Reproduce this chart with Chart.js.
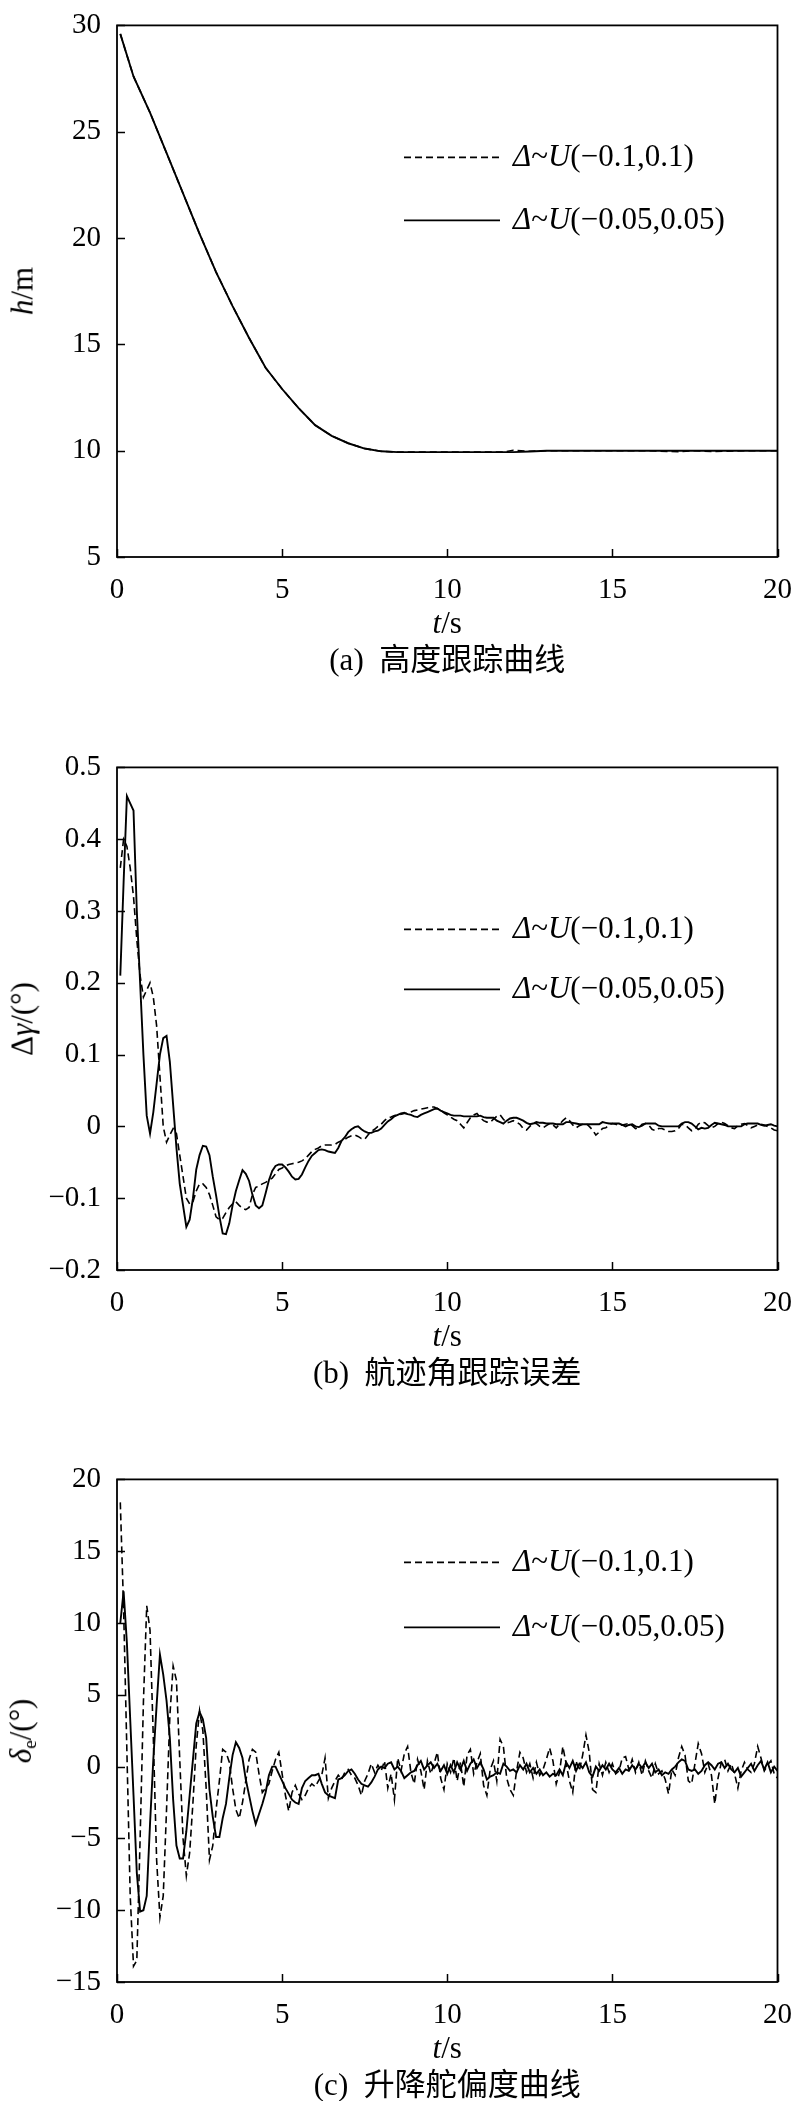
<!DOCTYPE html>
<html>
<head>
<meta charset="utf-8">
<script src="https://cdn.jsdelivr.net/npm/chart.js@4.4.1/dist/chart.umd.min.js"></script>
<style>
  body { margin: 0; background: #fff; width: 800px; height: 2101px; position: relative; overflow: hidden;
         font-family: "Liberation Serif", "Tinos", "Times New Roman", Times, "DejaVu Serif", serif; color: #000; }
  .panel { position: absolute; left: 0; width: 800px; }
  .panel canvas { position: absolute; left: 0; top: 0; }
  .txt { position: absolute; white-space: nowrap; font-size: 31px; line-height: 1; }
  .ytitle { transform: translate(-50%, -50%) rotate(-90deg); }
  .xtitle { transform: translate(-50%, -50%); }
  .caption { transform: translate(-50%, -50%); font-size: 31px;
             font-family: "Liberation Serif", "Tinos", "Times New Roman", "Noto Sans CJK SC", serif; }
  sub { font-size: 0.62em; vertical-align: -0.25em; }
</style>
</head>
<body>
<div class="panel" id="pa" style="top:0px"><canvas width="800" height="607"></canvas></div>
<div class="panel" id="pb" style="top:742px"><canvas width="800" height="578"></canvas></div>
<div class="panel" id="pc" style="top:1454px"><canvas width="800" height="578"></canvas></div>

<script>
// ---- data ----
const labelWide = 'Δ~U(−0.1,0.1)';
const labelNarrow = 'Δ~U(−0.05,0.05)';

// (a) altitude h/m
const aTime = [0.1, 0.5, 1, 1.5, 2, 2.5, 3, 3.5, 4, 4.5, 5, 5.5, 6, 6.5, 7, 7.5, 8, 8.5, 9, 10, 11, 11.7, 12, 12.5, 13, 14, 15, 16, 17, 17.5, 18, 19, 20];
const aNarrow = [29.6, 27.6, 25.9, 24.0, 22.1, 20.2, 18.4, 16.8, 15.3, 13.9, 12.9, 12.0, 11.2, 10.7, 10.35, 10.1, 9.97, 9.93, 9.93, 9.93, 9.93, 9.93, 9.93, 9.96, 10.0, 10.0, 10.0, 10.0, 10.0, 10.0, 10.0, 10.0, 10.0];
const aWide = [29.6, 27.6, 25.9, 24.0, 22.1, 20.2, 18.4, 16.8, 15.3, 13.9, 12.9, 12.0, 11.2, 10.7, 10.35, 10.1, 9.97, 9.93, 9.93, 9.93, 9.93, 9.93, 10.02, 9.97, 10.0, 10.0, 10.0, 10.0, 9.95, 10.0, 9.96, 10.0, 10.0];

// sample times of (b) and (c): 0.1 s .. 20.0 s
const tGrid = [];
for (let i = 1; i <= 200; i++) tGrid.push(i / 10);

// (b) flight path angle error
const bNarrow = [
  0.21, 0.34, 0.46, 0.45, 0.44, 0.30, 0.20, 0.10, 0.015, -0.01,
  0.02, 0.06, 0.10, 0.123, 0.126, 0.09, 0.03, -0.03, -0.08, -0.11,
  -0.14, -0.13, -0.10, -0.06, -0.04, -0.027, -0.028, -0.04, -0.07, -0.096,
  -0.125, -0.149, -0.15, -0.135, -0.11, -0.09, -0.075, -0.061, -0.066, -0.076,
  -0.095, -0.11, -0.114, -0.11, -0.093, -0.075, -0.062, -0.055, -0.053, -0.053,
  -0.057, -0.063, -0.07, -0.074, -0.073, -0.067, -0.057, -0.048, -0.041, -0.037,
  -0.033, -0.032, -0.033, -0.035, -0.036, -0.037, -0.03, -0.02, -0.015, -0.008,
  -0.004, -0.001, 0, -0.004, -0.007, -0.009, -0.009, -0.007, -0.006, -0.003,
  0.002, 0.007, 0.01, 0.014, 0.016, 0.018, 0.019, 0.017, 0.016, 0.014,
  0.013, 0.016, 0.018, 0.02, 0.022, 0.024, 0.025, 0.022, 0.02, 0.018,
  0.016, 0.015, 0.015, 0.015, 0.014, 0.014, 0.014, 0.014, 0.014, 0.015,
  0.013, 0.012, 0.012, 0.012, 0.008, 0.006, 0.004, 0.008, 0.011, 0.012,
  0.012, 0.01, 0.008, 0.005, 0.003, 0.004, 0.006, 0.005, 0.005, 0.004,
  0.004, 0.004, 0.003, 0.003, 0.003, 0.006, 0.006, 0.005, 0.004, 0.003,
  0.003, 0.003, 0.003, 0.003, 0.003, 0.003, 0.006, 0.005, 0.004, 0.004,
  0.004, 0.004, 0.002, 0, 0.002, 0.003, 0, -0.001, 0.001, 0.004,
  0.004, 0.004, 0.004, 0.001, 0, 0, 0, 0, 0, 0,
  0.004, 0.006, 0.006, 0.004, 0, -0.004, -0.002, -0.003, -0.002, 0.002,
  0.005, 0.004, 0.003, 0.002, 0, 0, 0, 0, 0, 0.003,
  0.004, 0.004, 0.004, 0.004, 0.002, 0.001, 0.002, 0.003, 0.001, 0
];
const bWide = [
  0.36, 0.40, 0.39, 0.36, 0.32, 0.26, 0.21, 0.18, 0.19, 0.20,
  0.18, 0.14, 0.07, 0.0, -0.022, -0.012, -0.003, -0.01, -0.04, -0.07,
  -0.10, -0.108, -0.105, -0.09, -0.08, -0.08, -0.085, -0.095, -0.11, -0.126,
  -0.13, -0.128, -0.12, -0.113, -0.108, -0.105, -0.11, -0.114, -0.116, -0.113,
  -0.095, -0.085, -0.083, -0.08, -0.078, -0.075, -0.072, -0.066, -0.06, -0.058,
  -0.055, -0.053, -0.052, -0.051, -0.05, -0.048, -0.045, -0.04, -0.035, -0.032,
  -0.03, -0.027, -0.026, -0.026, -0.026, -0.025, -0.022, -0.02, -0.018, -0.015,
  -0.013, -0.012, -0.014, -0.017, -0.018, -0.012, -0.007, -0.004, 0, 0.003,
  0.008, 0.012, 0.013, 0.015, 0.016, 0.017, 0.018, 0.018, 0.02, 0.022,
  0.023, 0.024, 0.025, 0.026, 0.027, 0.027, 0.025, 0.023, 0.019, 0.016,
  0.013, 0.01, 0.008, 0.003, -0.002, 0.005, 0.012, 0.016, 0.018, 0.012,
  0.008, 0.006, 0.006, 0.01, 0.014, 0.016, 0.01, 0.005, 0.006, 0.008,
  0.006, 0.003, -0.003, -0.005, 0, 0.004, 0.004, 0, -0.002, 0.001,
  0.004, 0.002, -0.002, 0.003, 0.008, 0.012, 0.008, 0.002, -0.002, 0.001,
  0.003, 0.004, 0, -0.005, -0.012, -0.008, -0.003, -0.002, 0.002, 0.004,
  0.003, 0.001, 0.002, 0.003, 0.004, 0.001, -0.003, -0.002, 0.003, 0.004,
  0.002, -0.004, -0.006, -0.003, -0.003, -0.005, -0.007, -0.007, -0.006, -0.003,
  0.003, 0.002, -0.002, -0.006, -0.004, 0.003, 0.006, 0.005, 0.001, -0.002,
  0, 0.004, 0.006, 0.004, 0.001, -0.002, -0.003, 0.001, 0.003, 0.004,
  0.001, -0.002, 0, 0.002, 0.003, 0.002, 0, -0.002, -0.005, -0.006
];

// (c) elevator deflection
const cNarrow = [
  10.0, 12.2, 8.6, 3.3, -2.0, -7.4, -10.1, -10.0, -9.0, -4.0,
  0.5, 4.3, 7.8, 6.4, 4.6, 2.0, -2.3, -5.5, -6.4, -6.4,
  -4.5, -2.0, 0.5, 3.0, 3.8, 3.3, 2.0, -1.6, -3.5, -4.9,
  -4.9, -3.6, -2.6, -0.8, 0.8, 1.7, 1.3, 0.6, -0.9, -2.0,
  -3.1, -4.0, -3.3, -2.6, -1.8, -0.6, 0.0, 0.0, -0.5, -1.0,
  -1.5, -1.9, -2.3, -2.5, -2.6, -1.5, -1.0, -0.8, -0.6, -0.6,
  -0.5, -1.2, -1.8, -2.0, -2.1, -2.2, -0.9, -0.8, -0.6, -0.3,
  -0.2, -0.5, -0.9, -1.2, -1.3, -1.4, -1.1, -0.7, -0.2, 0.0,
  -0.1, 0.2, 0.3, -0.2, 0.0, -0.3, -0.8, -0.6, -0.4, -0.3,
  0.1, 0.4, -0.2, 0.1, 0.3, -0.1, 0.2, -0.3, 0.1, -0.5,
  0.1, -0.4, 0.3, -0.2, 0.4, -0.3, 0.2, 0.5, -0.1, 0.3,
  -0.2, -0.9, -0.7, -0.6, -0.4, -0.5, 0.2, 0.0, -0.3, -0.2,
  -0.4, 0.1, -0.2, 0.2, -0.4, -0.1, -0.5, -0.2, -0.6, -0.4,
  -0.7, -0.5, -0.6, -0.2, -0.6, 0.3, -0.1, 0.4, -0.3, 0.2,
  -0.1, 0.3, -0.4, -0.7, 0.0, -0.3, 0.1, -0.2, 0.2, -0.2,
  -0.4, -0.1, -0.5, -0.2, -0.3, 0.1, -0.2, 0.2, -0.1, 0.3,
  -0.1, 0.2, -0.4, -0.2, -0.6, -0.4, -0.5, -0.2, 0.0, 0.3,
  0.5, 0.4, -0.2, -0.3, -0.2, -0.5, -0.3, 0.1, 0.3, 0.1,
  -0.2, 0.2, 0.3, -0.1, 0.2, -0.2, -0.4, -0.1, -0.7, -0.4,
  -0.1, 0.2, -0.3, 0.1, 0.4, -0.2, 0.3, -0.4, 0.0, -0.3
];
const cWide = [
  18.4, 11.0, 1.0, -9.0, -13.9, -13.5, -5.0, 4.5, 11.2, 9.5,
  2.0, -6.5, -10.5, -9.0, -3.0, 3.5, 7.0, 6.0, 0.5, -5.0,
  -7.6, -6.0, -2.5, 1.5, 3.9, 2.5, -1.5, -6.5, -5.5, -3.0,
  -1.0, 1.2, 1.0, 0.3, -1.5, -3.0, -3.6, -2.5, -1.0, 0.5,
  1.2, 1.0, -0.5, -1.8, -1.5, -1.2, -0.3, 0.5, 1.0, -0.5,
  -2.0, -3.1, -1.8, -1.3, -1.9, -2.3, -2.0, -1.5, -1.2, -1.4,
  -1.0, -0.6, 0.6, -2.2, -1.5, -1.0, -0.6, -0.9, -0.4, -0.2,
  -0.6, -0.8, -1.3, -2.0, -1.0, -0.5, 0.2, -0.4, 0.1, -0.3,
  0.4, -1.5, -0.5, -2.3, 0.6, -0.3, 0.9, 1.4, -0.4, -1.2,
  0.5, -0.3, -1.6, 0.4, -0.5, 0.2, 1.0, -0.8, -1.6, 0.2,
  -0.4, 0.6, -1.0, 0.3, -1.4, 0.8, 1.2, -0.5, 0.3, 0.9,
  -1.3, -2.0, -0.2, 0.4, -1.0, 1.9, 1.4, -0.8, -1.6, -2.0,
  -0.3, 1.0, 0.6, -0.4, 0.2, -0.8, 0.3, -0.6, -0.2, 0.5,
  1.3, 0.4, -1.2, -0.4, 1.4, 0.2, -1.0, -1.8, 0.4, -0.3,
  0.8, 2.2, 1.0, -1.6, -1.8, 0.2, -0.6, 0.3, -0.4, 0.2,
  -0.5, -0.3, 0.6, 0.7, -0.2, 0.5, -0.4, 0.3, -0.6, 0.4,
  -0.3, -0.8, 0.2, -0.5, -0.3, -0.9, -1.9, -0.2, -0.6, 0.6,
  1.4, 0.8, -1.0, -1.2, 0.2, 1.6, 0.9, -0.4, 0.2, -0.6,
  -2.6, -0.8, 0.3, 0.5, -0.3, 0.2, -0.5, -1.5, -0.3, 0.3,
  -0.2, -0.4, 0.2, 1.4, 0.6, -0.3, 0.1, 0.4, -0.5, -0.8
];

const xTicks = [0, 5, 10, 15, 20];

// ---- drawing ----
const serif = '"Liberation Serif", "Tinos", "Times New Roman", Times, "DejaVu Serif", serif';

function fmtTick(v) {
    const r = Math.round(v * 1000) / 1000;
    return String(r).replace('-', '−');
}

// box, inward ticks and the legend with italic Δ and U
const framePlugin = {
    id: 'frame',
    afterDraw(chart, args, opts) {
        const { ctx, chartArea: a, scales: { x, y } } = chart;
        ctx.save();
        ctx.strokeStyle = '#000';
        ctx.lineWidth = 1.8;
        ctx.setLineDash([]);
        ctx.strokeRect(a.left, a.top, a.right - a.left, a.bottom - a.top);
        ctx.beginPath();
        ctx.lineWidth = 1.5;
        x.ticks.forEach(t => {
            const px = Math.round(x.getPixelForValue(t.value)) + 0.5;
            ctx.moveTo(px, a.bottom);
            ctx.lineTo(px, a.bottom - 8);
        });
        y.ticks.forEach(t => {
            const py = Math.round(y.getPixelForValue(t.value)) + 0.5;
            ctx.moveTo(a.left, py);
            ctx.lineTo(a.left + 8, py);
        });
        ctx.stroke();

        // legend rows: dashed series first
        opts.rows.forEach((rowY, k) => {
            const ds = chart.data.datasets[k];
            const yy = a.top + rowY;
            ctx.beginPath();
            ctx.lineWidth = ds.borderWidth;
            ctx.setLineDash(ds.borderDash || []);
            ctx.moveTo(opts.lineX0, yy);
            ctx.lineTo(opts.lineX1, yy);
            ctx.stroke();
            ctx.setLineDash([]);
            ctx.fillStyle = '#000';
            ctx.textBaseline = 'middle';
            let tx = opts.textX;
            for (const ch of ds.label) {
                const italic = ch === 'Δ' || ch === 'U';
                ctx.font = (italic ? 'italic ' : '') + opts.fontSize + 'px ' + serif;
                ctx.fillText(ch, tx, yy);
                tx += ctx.measureText(ch).width;
            }
        });
        ctx.restore();
    }
};

function buildPanel(id, cfg) {
    const wrap = document.getElementById(id);
    const canvas = wrap.querySelector('canvas');
    const panelTop = parseFloat(wrap.style.top);

    const datasets = [
        { label: labelWide, t: cfg.t, v: cfg.wide, dash: [7, 4], order: 1 },
        { label: labelNarrow, t: cfg.t, v: cfg.narrow, dash: [], order: 0 }
    ].map(s => ({
        label: s.label,
        data: s.t.map((t, i) => ({ x: t, y: s.v[i] })),
        borderColor: '#000',
        borderWidth: s.dash.length ? 1.6 : 1.9,
        borderDash: s.dash,
        pointRadius: 0,
        tension: 0,
        fill: false,
        order: s.order
    }));

    const tickFont = { family: serif, size: 29 };
    const chart = new Chart(canvas, {
        type: 'line',
        data: { datasets },
        options: {
            responsive: false,
            animation: false,
            devicePixelRatio: 1,
            layout: { padding: { left: 0, right: 19, top: 17, bottom: 0 } },
            plugins: {
                legend: { display: false },
                tooltip: { enabled: false },
                frame: { rows: cfg.legendRows, lineX0: 404, lineX1: 500, textX: 513, fontSize: 31 }
            },
            scales: {
                x: {
                    type: 'linear', min: 0, max: 20,
                    grid: { display: false }, border: { display: false },
                    afterBuildTicks: s => { s.ticks = xTicks.map(v => ({ value: v })); },
                    ticks: { color: '#000', font: tickFont, padding: 8, maxRotation: 0, autoSkip: false,
                             callback: v => fmtTick(v) },
                    afterFit: s => { s.height = 50; }
                },
                y: {
                    min: cfg.yMin, max: cfg.yMax,
                    grid: { display: false }, border: { display: false },
                    afterBuildTicks: s => { s.ticks = cfg.yTicks.map(v => ({ value: v })); },
                    ticks: { color: '#000', font: tickFont, padding: 8, autoSkip: false,
                             callback: v => fmtTick(v) },
                    afterFit: s => { s.width = 117; }
                }
            }
        },
        plugins: [framePlugin]
    });

    const a = chart.chartArea;
    const midX = (a.left + a.right) / 2;

    const yt = document.createElement('div');
    yt.className = 'txt ytitle';
    yt.innerHTML = cfg.yTitle;
    yt.style.left = '22px';
    yt.style.top = (panelTop + (a.top + a.bottom) / 2) + 'px';
    document.body.appendChild(yt);

    const xt = document.createElement('div');
    xt.className = 'txt xtitle';
    xt.innerHTML = '<i>t</i>/s';
    xt.style.left = midX + 'px';
    xt.style.top = (panelTop + a.bottom + 65) + 'px';
    document.body.appendChild(xt);

    const cap = document.createElement('div');
    cap.className = 'txt caption';
    cap.innerHTML = cfg.caption;
    cap.style.left = midX + 'px';
    cap.style.top = (panelTop + a.bottom + 102) + 'px';
    document.body.appendChild(cap);
}

buildPanel('pa', {
    t: aTime, wide: aWide, narrow: aNarrow,
    yMin: 5, yMax: 30, yTicks: [5, 10, 15, 20, 25, 30],
    legendRows: [132, 195],
    yTitle: '<i>h</i>/m',
    caption: '(a)&nbsp;&nbsp;高度跟踪曲线'
});
buildPanel('pb', {
    t: tGrid, wide: bWide, narrow: bNarrow,
    yMin: -0.2, yMax: 0.5, yTicks: [-0.2, -0.1, 0, 0.1, 0.2, 0.3, 0.4, 0.5],
    legendRows: [162, 222],
    yTitle: 'Δ<i>γ</i>/(°)',
    caption: '(b)&nbsp;&nbsp;航迹角跟踪误差'
});
buildPanel('pc', {
    t: tGrid, wide: cWide, narrow: cNarrow,
    yMin: -15, yMax: 20, yTicks: [-15, -10, -5, 0, 5, 10, 15, 20],
    legendRows: [83, 148],
    yTitle: '<i>δ</i><sub>e</sub>/(°)',
    caption: '(c)&nbsp;&nbsp;升降舵偏度曲线'
});
</script>
</body>
</html>
